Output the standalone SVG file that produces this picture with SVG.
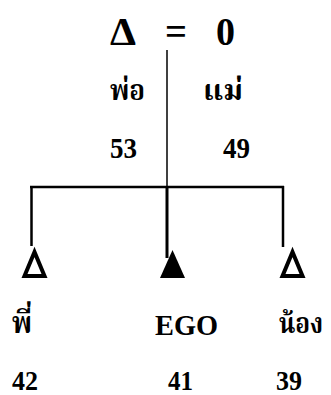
<svg xmlns="http://www.w3.org/2000/svg" width="331" height="395" viewBox="0 0 331 395">
<style>
.t{font-family:"Liberation Serif","Noto Serif Thai","Noto Sans Thai","Noto Sans","DejaVu Sans",serif;font-weight:bold;fill:#000}
.th{font-family:"Noto Serif Thai","Noto Sans Thai","Liberation Serif","Noto Sans","DejaVu Sans",serif;font-weight:bold;fill:#000}
.ln{stroke:#000;fill:none}
.open{fill:none;stroke:#000;stroke-width:4;stroke-linejoin:miter}
</style>
<rect width="331" height="395" fill="#fff"/>
<g id="connectors">
<line class="ln" x1="167" y1="50" x2="167" y2="187" stroke-width="1.5"/>
<line class="ln" x1="30" y1="187" x2="284" y2="187" stroke-width="2.5"/>
<line class="ln" x1="31.5" y1="186" x2="31.5" y2="246" stroke-width="2.5"/>
<line class="ln" x1="283" y1="186" x2="283" y2="247" stroke-width="2.5"/>
<line class="ln" x1="167" y1="186" x2="167" y2="258" stroke-width="3"/>
</g>
<g id="parents">
<text class="t" x="110" y="45" font-size="40" textLength="26" lengthAdjust="spacingAndGlyphs">Δ</text>
<text class="t" x="165" y="45" font-size="40" textLength="22" lengthAdjust="spacingAndGlyphs">=</text>
<text class="t" x="216" y="45" font-size="40" textLength="19" lengthAdjust="spacingAndGlyphs">0</text>
</g>
<g id="father">
<text class="th" x="110" y="100" font-size="28" textLength="35" lengthAdjust="spacingAndGlyphs">พ่อ</text>
<text class="t" x="110" y="158" font-size="29" textLength="27" lengthAdjust="spacingAndGlyphs">53</text>
</g>
<g id="mother">
<text class="th" x="203" y="100" font-size="28" textLength="40" lengthAdjust="spacingAndGlyphs">แม่</text>
<text class="t" x="223" y="158" font-size="29" textLength="27" lengthAdjust="spacingAndGlyphs">49</text>
</g>
<g id="elder">
<polygon class="open" points="34.5,252 24.5,276 44.5,276"/>
<text class="th" x="12" y="333" font-size="30" textLength="20" lengthAdjust="spacingAndGlyphs">พี่</text>
<text class="t" x="12" y="390" font-size="27" textLength="26" lengthAdjust="spacingAndGlyphs">42</text>
</g>
<g id="ego">
<polygon points="172.5,250 160,278 185,278" fill="#000"/>
<text class="t" x="155" y="335" font-size="30" textLength="63" lengthAdjust="spacingAndGlyphs">EGO</text>
<text class="t" x="168" y="390" font-size="27" textLength="25" lengthAdjust="spacingAndGlyphs">41</text>
</g>
<g id="younger">
<polygon class="open" points="292.5,252 282.5,276 302.5,276"/>
<text class="th" x="279" y="333" font-size="29" textLength="44" lengthAdjust="spacingAndGlyphs">น้อง</text>
<text class="t" x="276" y="390" font-size="27" textLength="26" lengthAdjust="spacingAndGlyphs">39</text>
</g>
</svg>
